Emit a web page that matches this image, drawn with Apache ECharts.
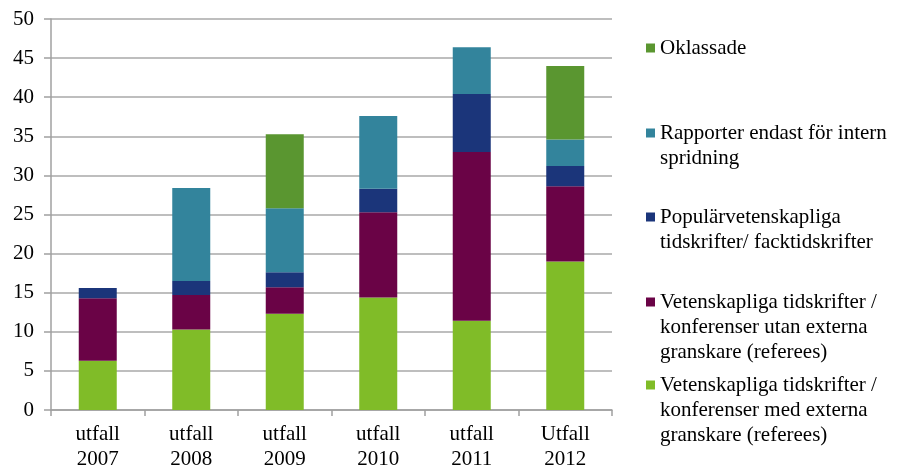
<!DOCTYPE html>
<html>
<head>
<meta charset="utf-8">
<script src="https://cdn.jsdelivr.net/npm/echarts@6/dist/echarts.min.js"></script>
<style>
  html, body { margin: 0; padding: 0; background: #fff; }
  #chart { width: 897px; height: 468px; }
</style>
</head>
<body>
<div id="chart"></div>
<script>
const categories = ['utfall\n2007', 'utfall\n2008', 'utfall\n2009', 'utfall\n2010', 'utfall\n2011', 'Utfall\n2012'];

// series names (legend shows them top to bottom in reverse stack order)
const nameMed = 'Vetenskapliga tidskrifter /\nkonferenser med externa\ngranskare (referees)';
const nameUtan = 'Vetenskapliga tidskrifter /\nkonferenser utan externa\ngranskare (referees)';
const namePop = 'Populärvetenskapliga\ntidskrifter/ facktidskrifter';
const nameRapp = 'Rapporter endast för intern\nspridning';
const nameOkl = 'Oklassade';

const medValues = [6.3, 10.3, 12.3, 14.4, 11.4, 19.0];
const utanValues = [8.0, 4.4, 3.4, 10.9, 21.6, 9.6];
const popValues = [1.3, 1.8, 1.9, 3.0, 7.4, 2.6];
const rappValues = [0, 11.9, 8.2, 9.3, 6.0, 3.4];
const oklValues = [0, 0, 9.45, 0, 0, 9.4];

const FONT = '"Liberation Serif", "Times New Roman", serif';
const FS = 21;
const LH = 25;
const colors = {
  med: '#80bc28',
  utan: '#6a0346',
  pop: '#1b357a',
  rapp: '#33849c',
  okl: '#5a9630'
};

const chart = echarts.init(document.getElementById('chart'));

// one legend per item; the legend draws the icon + first line,
// the wrapped remainder is added as plain text beneath it
const LEG_X = 646;
const ICON = 9;
const TEXT_X = LEG_X + ICON + 5;
const legendRows = [
  { name: nameOkl, y: 48 },
  { name: nameRapp, y: 133 },
  { name: namePop, y: 217 },
  { name: nameUtan, y: 302 },
  { name: nameMed, y: 385 }
];

const legends = legendRows.map(function (row) {
  return {
    show: true,
    left: LEG_X,
    top: row.y - LH / 2,
    padding: 0,
    itemWidth: ICON,
    itemHeight: ICON,
    icon: 'rect',
    selectedMode: false,
    data: [row.name],
    formatter: function (n) { return n.split('\n')[0]; },
    textStyle: { fontFamily: FONT, fontSize: FS, color: '#000', lineHeight: LH }
  };
});

const graphics = legendRows
  .filter(function (row) { return row.name.indexOf('\n') > 0; })
  .map(function (row) {
    return {
      type: 'text',
      x: TEXT_X,
      y: row.y + LH / 2,
      silent: true,
      style: {
        text: row.name.split('\n').slice(1).join('\n'),
        font: FS + 'px ' + FONT,
        lineHeight: LH,
        fill: '#000',
        verticalAlign: 'top'
      }
    };
  });

function barSeries(name, data, color) {
  return {
    name: name,
    type: 'bar',
    stack: 'total',
    barWidth: 38,
    data: data,
    itemStyle: { color: color },
    emphasis: { disabled: true }
  };
}

chart.setOption({
  animation: false,
  textStyle: { fontFamily: FONT },
  grid: { left: 51, right: 285, top: 19, bottom: 58, outerBoundsMode: 'none', containLabel: false },
  legend: legends,
  graphic: graphics,
  xAxis: {
    type: 'category',
    data: categories,
    axisLine: { lineStyle: { color: '#a0a0a0', width: 1.5 } },
    axisTick: { show: true, length: 6, lineStyle: { color: '#a0a0a0', width: 1.5 } },
    axisLabel: {
      color: '#000',
      fontFamily: FONT,
      fontSize: FS,
      lineHeight: LH,
      margin: 12
    }
  },
  yAxis: {
    type: 'value',
    min: 0,
    max: 50,
    interval: 5,
    axisLine: { show: true, lineStyle: { color: '#a0a0a0', width: 1.5 } },
    axisTick: { show: true, length: 7, lineStyle: { color: '#a0a0a0', width: 1.5 } },
    splitLine: { lineStyle: { color: '#a8a8a8', width: 1.5 } },
    axisLabel: {
      color: '#000',
      fontFamily: FONT,
      fontSize: FS,
      margin: 17
    }
  },
  series: [
    barSeries(nameMed, medValues, colors.med),
    barSeries(nameUtan, utanValues, colors.utan),
    barSeries(namePop, popValues, colors.pop),
    barSeries(nameRapp, rappValues, colors.rapp),
    barSeries(nameOkl, oklValues, colors.okl)
  ]
});
</script>
</body>
</html>
